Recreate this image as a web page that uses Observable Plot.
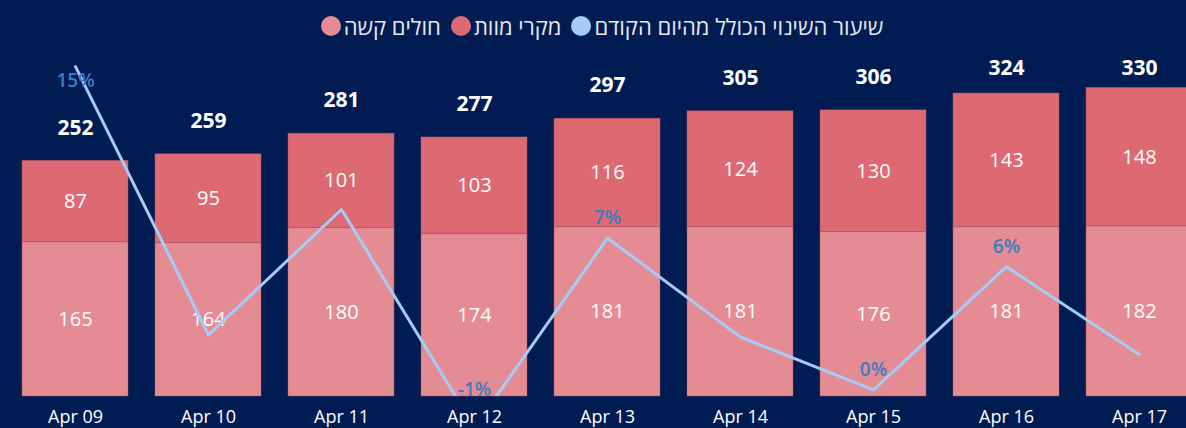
<!DOCTYPE html>
<html>
<head>
<meta charset="utf-8">
<script src="https://cdn.jsdelivr.net/npm/d3@7"></script>
<script src="https://cdn.jsdelivr.net/npm/@observablehq/plot@0.6"></script>
<style>
  html, body { margin: 0; padding: 0; background: #011c53; overflow: hidden; width: 1186px; height: 428px; }
  body { font-family: "Segoe UI", "Open Sans", "DejaVu Sans", sans-serif; }
  #legend { position: absolute; top: 1px; left: 0; width: 1186px; height: 50px; display: flex; align-items: center; justify-content: center; padding-left: 18px; box-sizing: border-box; color: #e8e8ee; font-size: 22px; }
  #legend .item { display: flex; align-items: center; margin: 0 5px; }
  #legend .dot { width: 20px; height: 20px; border-radius: 50%; margin-right: 3px; }
  #chart { position: absolute; top: 50px; left: 0; width: 1195px; height: 378px; }
  #chart svg { position: absolute; top: 0; left: 0; overflow: visible; }
  #err { position: absolute; top: 100px; left: 10px; color: #fff; font-size: 12px; white-space: pre; }
</style>
</head>
<body>
<div id="legend"></div>
<div id="chart"></div>
<div id="err"></div>
<script>
// ---- data ----
const dates = ["Apr 09", "Apr 10", "Apr 11", "Apr 12", "Apr 13", "Apr 14", "Apr 15", "Apr 16", "Apr 17"];
const severe = [165, 164, 180, 174, 181, 181, 176, 181, 182];   // חולים קשה
const deaths = [87, 95, 101, 103, 116, 124, 130, 143, 148];      // מקרי מוות
const totals = [252, 259, 281, 277, 297, 305, 306, 324, 330];
const changePct = [15.0, 2.8, 8.5, -1.4, 7.2, 2.7, 0.3, 5.9, 1.9]; // שיעור השינוי הכולל מהיום הקודם
const pctLabels = ["15%", null, null, "-1%", "7%", null, "0%", "6%", null];

const seriesNames = ["חולים קשה", "מקרי מוות", "שיעור השינוי הכולל מהיום הקודם"];
const seriesColors = ["#e58b94", "#dd6a73", "#a3cdf7"];

try {
// ---- legend ----
const legend = document.getElementById("legend");
seriesNames.forEach((name, i) => {
  const item = document.createElement("div");
  item.className = "item";
  const dot = document.createElement("span");
  dot.className = "dot";
  dot.style.background = seriesColors[i];
  const label = document.createElement("span");
  label.dir = "rtl";
  label.textContent = name;
  item.appendChild(dot);
  item.appendChild(label);
  legend.appendChild(item);
});

// ---- tables ----
const rows = [];
dates.forEach((d, i) => rows.push({date: d, series: seriesNames[0], value: severe[i]}));
dates.forEach((d, i) => rows.push({date: d, series: seriesNames[1], value: deaths[i]}));
const totalRows = dates.map((d, i) => ({date: d, total: totals[i]}));
const pctRows = dates.map((d, i) => ({date: d, pct: changePct[i], label: pctLabels[i]}));

const W = 1195, H = 378;
const common = {
  width: W, height: H,
  marginLeft: 20, marginRight: 0, marginTop: 0, marginBottom: 32,
  style: {background: "transparent", fontFamily: "'Segoe UI', 'Open Sans', 'DejaVu Sans', sans-serif", overflow: "visible"}
};

const yMax = 370;
const pxPerUnit = (H - 32) / yMax;
const totalGap = 33 / pxPerUnit;   // label sits ~33px above bar top
const totalCap = yMax - 18 / pxPerUnit;

const bars = Plot.plot({
  ...common,
  x: {type: "band", domain: dates, paddingInner: 0.2, paddingOuter: 0, label: null, tickSize: 0, tickPadding: 14},
  y: {domain: [0, yMax], axis: null},
  color: {domain: seriesNames.slice(0, 2), range: seriesColors.slice(0, 2)},
  marks: [
    Plot.barY(rows, {x: "date", y: "value", fill: "series", stroke: "#b4545e", strokeWidth: 0.8, strokeOpacity: 0.6}),
    Plot.text(rows, Plot.stackY({x: "date", y: "value", text: d => String(d.value), fill: "#ffffff", fontSize: 20})),
    Plot.text(totalRows, {x: "date", y: d => Math.min(d.total + totalGap, totalCap), text: d => String(d.total), fill: "#ffffff", fontSize: 21, fontWeight: "bold"})
  ]
});
bars.querySelectorAll('g[aria-label^="x-axis"]').forEach(g => { g.setAttribute("font-size", "18"); g.style.fontSize = "18px"; g.setAttribute("fill", "#ffffff"); });
bars.querySelectorAll('g[aria-label^="x-axis"] text').forEach(t => { t.style.fontSize = "18px"; t.setAttribute("fill", "#ffffff"); });

const pMax = 15.73;
const pxPerPct = (H - 32) / pMax;
const labelLift = 20 / pxPerPct;
const labelLo = 7 / pxPerPct;
const labelHi = pMax - 30 / pxPerPct;

const line = Plot.plot({
  ...common,
  x: {type: "band", domain: dates, paddingInner: 0.2, paddingOuter: 0, axis: null},
  y: {domain: [0, pMax], axis: null},
  marks: [
    Plot.lineY(pctRows, {x: "date", y: "pct", stroke: seriesColors[2], strokeWidth: 3, clip: true}),
    Plot.text(pctRows.filter(d => d.label), {x: "date", y: d => Math.max(labelLo, Math.min(labelHi, d.pct + labelLift)), text: "label", fill: "#3b7cc2", fontSize: 19, fontWeight: 600})
  ]
});

const chart = document.getElementById("chart");
chart.appendChild(bars);
chart.appendChild(line);
} catch (e) {
  document.getElementById("err").textContent = String(e && e.stack || e);
}
</script>
</body>
</html>
